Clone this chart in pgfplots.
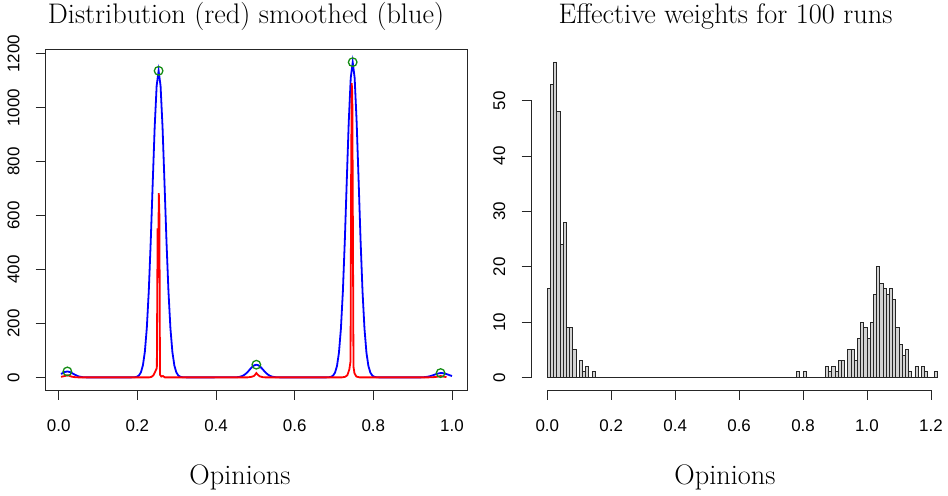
\documentclass[border=0pt]{standalone}
\usepackage{fontspec}
\usepackage{pgfplots}
\pgfplotsset{compat=1.18}
\newfontfamily\tickfont{Liberation Sans}
\definecolor{Rgreen}{RGB}{20,140,20}
\definecolor{Rgray}{RGB}{211,211,211}
\pgfplotsset{
  Rstyle/.style={
    scale only axis,
    axis line style={black!85, line width=0.9bp},
    tick style={black!85, line width=0.9bp},
    tick align=outside,
    major tick length=10bp,
    xtick pos=bottom, ytick pos=left,
    ticklabel style={font=\tickfont\fontsize{17}{19}\selectfont, inner sep=0pt},
    /pgf/number format/assume math mode=true,
    scaled ticks=false,
    xticklabel style={/pgf/number format/.cd, fixed, fixed zerofill, precision=1},
    yticklabel style={rotate=90, anchor=south, /pgf/number format/.cd, fixed, precision=0, 1000 sep={}},
    xticklabel shift=19bp,
    yticklabel shift=16bp,
  }
}
\begin{document}
\begin{tikzpicture}
\path[use as bounding box] (0bp,0bp) rectangle (948bp,496bp);

% ---------------- left panel ----------------
\begin{axis}[Rstyle,
  at={(45.7bp,106bp)}, anchor=south west,
  width=421.6bp, height=340.7bp,
  xmin=-0.0331, xmax=1.0389, ymin=-46.8, ymax=1216.8,
  xtick={0,0.2,0.4,0.6,0.8,1.0},
  ytick={0,200,400,600,800,1000,1200},
]
\addplot[blue, line width=1.8bp] coordinates {
(0.006,12.5) (0.010,16) (0.015,19.7) (0.022,22) (0.030,19.1) (0.040,10.7) (0.050,3.9) (0.060,0.9) (0.070,0.1) (0.080,0)
(0.180,0) (0.189,0.2) (0.194,0.8) (0.199,2.5) (0.204,7.1) (0.209,18.7) (0.214,44.3) (0.219,94.7) (0.224,183) (0.229,320)
(0.234,505) (0.239,720) (0.244,928) (0.249,1081) (0.254,1137) (0.259,1081) (0.264,928) (0.269,720) (0.274,505) (0.279,320)
(0.284,183) (0.289,94.7) (0.294,44.3) (0.299,18.7) (0.304,7.1) (0.309,2.5) (0.314,0.8) (0.319,0.2) (0.330,0)
(0.4475,0.2) (0.4525,0.6) (0.4575,1.4) (0.4625,2.95) (0.4675,5.6) (0.4725,9.9) (0.4775,15.9) (0.4825,23.5) (0.4875,31.9)
(0.4925,39.5) (0.4975,45) (0.5025,47) (0.5075,45) (0.5125,39.5) (0.5175,31.9) (0.5225,23.5) (0.5275,15.9) (0.5325,9.9)
(0.5375,5.6) (0.5425,2.95) (0.5475,1.4) (0.5525,0.6) (0.5575,0.2) (0.565,0)
(0.680,0) (0.6875,0.7) (0.6925,2.2) (0.6975,6.4) (0.7025,17.3) (0.7075,41.9) (0.7125,91) (0.7175,180) (0.7225,318)
(0.7275,508.5) (0.7325,732) (0.7375,949) (0.7425,1110) (0.7475,1169) (0.7525,1110) (0.7575,949) (0.7625,732) (0.7675,508.5)
(0.7725,318) (0.7775,180) (0.7825,91) (0.7875,41.9) (0.7925,17.3) (0.7975,6.4) (0.8025,2.2) (0.8075,0.7) (0.815,0)
(0.920,0) (0.925,0.46) (0.930,0.9) (0.935,1.7) (0.940,3.0) (0.945,4.8) (0.950,7.1) (0.955,9.7) (0.960,12.3) (0.965,14.5)
(0.970,15.8) (0.975,15.9) (0.980,14.8) (0.985,12.8) (0.990,10.2) (0.995,7.6) (1.000,5.2)
};
\addplot[red, line width=1.8bp] coordinates {
(0.006,2) (0.012,4) (0.018,6) (0.022,8) (0.027,6) (0.032,3) (0.040,1) (0.050,0)
(0.230,0) (0.236,2) (0.241,8) (0.245,20) (0.2495,35) (0.2515,553) (0.2530,420) (0.2545,683) (0.2560,600) (0.2575,10) (0.2610,3) (0.2650,5) (0.2700,0)
(0.480,0) (0.490,2) (0.496,5) (0.500,11) (0.5025,16) (0.506,10) (0.511,4) (0.518,1) (0.525,0)
(0.720,0) (0.728,2) (0.734,8) (0.739,30) (0.742,60) (0.7435,740) (0.7450,1091) (0.7465,1050) (0.7480,560) (0.7495,40) (0.7520,15) (0.7570,3) (0.7650,0)
(0.940,0) (0.955,1) (0.965,3) (0.971,5) (0.978,3) (0.986,1)
};
\addplot[only marks, mark=o, mark size=4.3bp, Rgreen, mark options={line width=1.3bp}] coordinates {
(0.022,22) (0.254,1137) (0.5025,47) (0.7475,1169) (0.971,16)
};
\end{axis}

% ---------------- right panel ----------------
\begin{axis}[Rstyle,
  at={(531.6bp,106bp)}, anchor=south west,
  width=416.4bp, height=340.7bp,
  xmin=-0.049, xmax=1.2533, ymin=-2.28, ymax=59.28,
  axis line style={draw=none},
  clip=false,
  xtick={0,0.2,0.4,0.6,0.8,1.0,1.2},
  ytick={0,10,20,30,40,50},
]
\addplot[ybar interval, fill=Rgray, draw=black!85, line width=0.8bp] table[x=x, y=y] {
x y
0.00 16
0.01 53
0.02 57
0.03 48
0.04 24
0.05 28
0.06 9
0.07 9
0.08 5
0.09 0
0.10 3
0.11 1
0.12 2
0.13 0
0.14 1
0.15 0
0.16 0
0.17 0
0.18 0
0.19 0
0.20 0
0.21 0
0.22 0
0.23 0
0.24 0
0.25 0
0.26 0
0.27 0
0.28 0
0.29 0
0.30 0
0.31 0
0.32 0
0.33 0
0.34 0
0.35 0
0.36 0
0.37 0
0.38 0
0.39 0
0.40 0
0.41 0
0.42 0
0.43 0
0.44 0
0.45 0
0.46 0
0.47 0
0.48 0
0.49 0
0.50 0
0.51 0
0.52 0
0.53 0
0.54 0
0.55 0
0.56 0
0.57 0
0.58 0
0.59 0
0.60 0
0.61 0
0.62 0
0.63 0
0.64 0
0.65 0
0.66 0
0.67 0
0.68 0
0.69 0
0.70 0
0.71 0
0.72 0
0.73 0
0.74 0
0.75 0
0.76 0
0.77 0
0.78 1
0.79 0
0.80 1
0.81 0
0.82 0
0.83 0
0.84 0
0.85 0
0.86 0
0.87 2
0.88 1
0.89 2
0.90 1
0.91 3
0.92 3
0.93 0
0.94 5
0.95 5
0.96 3
0.97 7
0.98 10
0.99 9
1.00 7
1.01 10
1.02 15
1.03 20
1.04 17
1.05 16
1.06 15
1.07 16
1.08 14
1.09 9
1.10 6
1.11 4
1.12 5
1.13 1
1.14 0
1.15 2
1.16 0
1.17 2
1.18 1
1.19 0
1.20 0
1.21 1
1.22 0
};
\draw[black!85, line width=0.9bp] (axis cs:0,-2.28) -- (axis cs:1.2,-2.28);
\draw[black!85, line width=0.9bp] (axis cs:-0.049,0) -- (axis cs:-0.049,50);
\end{axis}

% ---------------- titles ----------------
\node[anchor=base, font=\fontsize{28.4}{33}\selectfont] at (246bp,472bp) {Distribution (red) smoothed (blue)};
\node[anchor=base, font=\fontsize{28.4}{33}\selectfont] at (725.5bp,472bp) {Effective weights for 100 runs};
\node[anchor=base, font=\fontsize{28.4}{33}\selectfont] at (240bp,12bp) {Opinions};
\node[anchor=base, font=\fontsize{28.4}{33}\selectfont] at (725bp,12bp) {Opinions};
\end{tikzpicture}
\end{document}
